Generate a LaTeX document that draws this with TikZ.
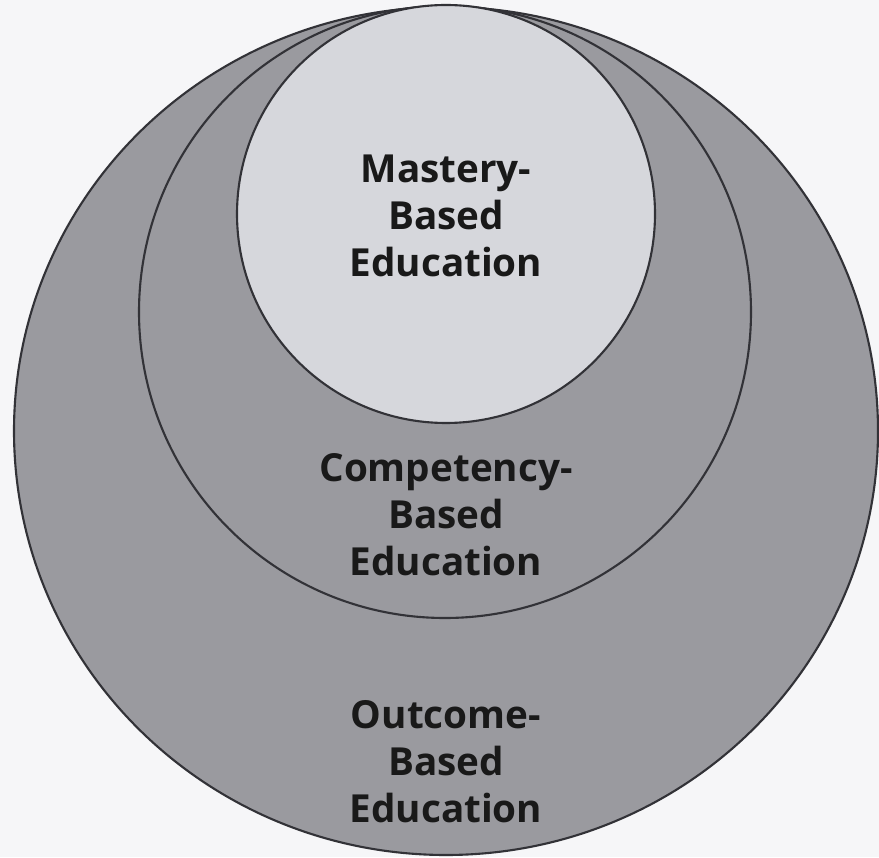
\documentclass[tikz,border=0pt]{standalone}
\usepackage{fontspec}
\setmainfont{Open Sans}
\usepackage{tikz}
\usetikzlibrary{calc}

\definecolor{paper}{RGB}{246,246,248}
\definecolor{ringgray}{RGB}{154,154,159}
\definecolor{coregray}{RGB}{214,215,220}
\definecolor{rimline}{RGB}{50,50,55}

\begin{document}
\begin{tikzpicture}[
  ring/.style={draw=rimline,line width=1.2pt},
  tag/.style={align=center,font=\bfseries\fontsize{22}{26.8}\selectfont,text=black!90}
]
\fill[paper] (0,0) rectangle (17.58,17.14);
\useasboundingbox (0,0) rectangle (17.58,17.14);

\draw[ring,fill=ringgray] (8.92,8.52) ellipse [x radius=8.64,y radius=8.48];
\draw[ring,fill=ringgray] (8.90,10.90) circle (6.12);
\draw[ring,fill=coregray] (8.92,12.86) circle (4.18);

\node[tag] (mastery) at (8.92,12.82) {Mastery-\\Based\\Education};
\node[tag] (competency) at (8.92,6.84) {Competency-\\Based\\Education};
\node[tag] (outcome) at (8.92,1.90) {Outcome-\\Based\\Education};

\end{tikzpicture}
\end{document}
